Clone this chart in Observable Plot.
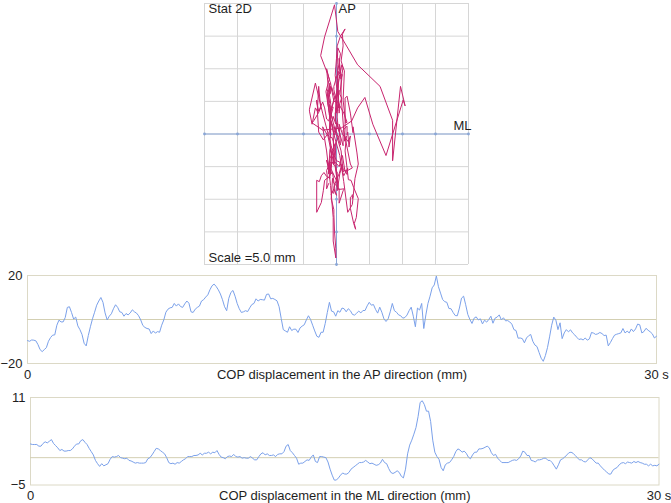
<!DOCTYPE html>
<html>
<head>
<meta charset="utf-8">
<script src="https://cdn.jsdelivr.net/npm/d3@7"></script>
<script src="https://cdn.jsdelivr.net/npm/@observablehq/plot@0.6"></script>
<style>
  html, body { margin: 0; padding: 0; background: #ffffff; }
  #chart { position: relative; width: 671px; height: 503px; overflow: hidden;
           font-family: "Liberation Sans", Arial, sans-serif; }
  #chart svg { position: absolute; left: 0; overflow: visible; }
</style>
</head>
<body>
<div id="chart"></div>
<script>
// ---- Data ----
const sampleInterval = 0.1;          // seconds between samples, 0 … 30 s
const durationSeconds = 30;

// COP displacement, antero-posterior (mm)
const apValues = [
  -9.6, -9.9, -9.3, -9.4, -9.7, -11.4, -13.7, -14.6, -13.7, -12.8,
  -9.9, -8.2, -7.1, -7.0, -2.6, -0.3, -1.1, -1.1, 0.9, 5.5,
  5.8, 3.2, 0.2, 1.1, -2.9, -4.6, -6.8, -10.8, -12.0, -7.3,
  -3.3, 0.3, 3.3, 6.5, 8.4, 10.0, 7.8, 3.0, -0.2, 1.5,
  2.6, 4.9, 6.7, 5.5, 3.5, 3.2, 1.5, 2.7, 2.1, 3.0,
  4.4, 3.5, 2.9, 1.7, -0.2, -2.7, -3.6, -4.1, -4.3, -6.4,
  -5.2, -6.2, -5.5, -5.8, -2.6, -0.2, 3.3, 4.7, 5.3, 5.5,
  7.3, 6.1, 7.1, 5.9, 5.5, 7.1, 8.4, 7.4, 3.5, 3.2,
  4.7, 5.5, 6.1, 8.4, 9.0, 10.2, 11.2, 13.5, 15.3, 16.1,
  15.0, 13.5, 11.6, 9.0, 5.8, 4.0, 9.6, 12.3, 13.2, 10.6,
  7.3, 4.9, 3.2, 3.5, 4.0, 3.6, 5.3, 6.8, 7.3, 9.4,
  8.4, 9.1, 9.0, 8.8, 11.4, 11.6, 9.4, 9.6, 9.1, 8.5,
  5.8, 0.5, -4.6, -5.2, -5.8, -3.3, -5.0, -4.4, -4.4, -5.9,
  -3.8, -3.0, -2.4, -0.2, 1.7, 0, -2.6, -5.2, -7.6, -8.1,
  -5.8, -5.8, -1.8, 3.2, 7.8, 3.8, 3.5, 1.5, 4.0, 3.3,
  5.2, 4.9, 3.5, 4.9, 4.0, 2.3, 2.0, 2.9, 3.8, 3.0,
  4.1, 4.1, 6.2, 7.8, 6.5, 6.8, 4.6, 2.9, 5.6, 3.3,
  0.3, -0.9, 0.3, 3.5, 7.3, 4.0, 3.3, 2.1, 1.7, 0.6,
  0.9, 2.0, 4.0, 5.6, 1.5, -3.3, 5.2, 4.3, 7.3, -4.1,
  2.1, 7.3, 10.6, 14.4, 15.7, 19.8, 14.9, 12.0, 9.1, 8.1,
  7.8, 5.0, 4.9, 3.2, 1.8, 1.7, 5.2, 9.7, 10.6, 6.7,
  2.3, 0, -1.8, 0.6, 1.2, -0.2, 0.3, -2.0, -0.3, -1.2,
  0, 1.5, -1.7, 0.6, 1.1, 2.1, -0.2, 0.8, -0.6, -0.5,
  -1.1, -2.1, -4.6, -5.0, -8.5, -8.4, -8.7, -10.6, -8.4, -7.4,
  -6.8, -9.9, -11.6, -12.3, -15.0, -17.6, -19.0, -16.4, -12.8, -7.9,
  -2.6, 1.1, -0.3, -4.6, -1.5, -8.7, -6.1, -4.6, -5.6, -4.7,
  -6.1, -7.0, -8.1, -9.1, -8.8, -9.3, -8.4, -9.4, -8.8, -5.9,
  -6.2, -6.8, -6.5, -5.9, -6.4, -7.3, -7.1, -12.0, -10.5, -8.7,
  -7.1, -6.7, -6.4, -6.1, -4.1, -6.1, -5.3, -6.1, -4.3, -5.5,
  -4.3, -2.1, -2.4, -6.1, -5.5, -4.0, -4.9, -5.6, -6.5, -8.4,
  -7.6
];

// COP displacement, medio-lateral (mm)
const mlValues = [
  2.5, 2.4, 2.4, 2.4, 2.1, 2.1, 2.6, 2.9, 2.7, 3.0,
  3.3, 2.6, 2.2, 1.8, 1.3, 1.5, 1.2, 1.2, 1.3, 1.3,
  1.6, 2.1, 2.5, 2.5, 3.1, 3.3, 2.8, 2.4, 1.7, 1.1,
  0.5, -0.5, -1.1, -1.6, -1.1, -1.5, -1.3, -1.1, -0.3, 0.2,
  0.1, 0.2, 0.4, 0, -0.1, -0.2, -0.1, -0.5, -0.6, -0.8,
  -1.0, -0.9, -1.0, -1.0, -1.0, -0.9, -0.2, 0, 0.5, 1.1,
  1.7, 1.6, 1.3, 1.0, 0.7, 0, -0.9, -1.1, -1.0, -1.2,
  -0.9, -1.0, -0.7, -0.4, -0.2, 0.2, 0.2, 0.2, 0.4, 0.4,
  0.5, 0.8, 0.5, 0.8, 0.8, 1.0, 0.7, 1.0, 0.9, 1.3,
  0.6, 0.1, 0, -0.2, 0.2, 0.3, 0.2, 0.6, 0.2, 0.1,
  0.2, -0.1, 0, -0.1, -0.1, 0.2, -0.1, -0.4, -0.4, 0.2,
  0.7, 0.9, 0.5, 0.7, 0.4, 0.4, 0.5, 0.2, 0.6, 0.7,
  0.7, 1.1, 2.1, 2.4, 1.3, 0.9, 0.4, -0.1, -1.2, -1.0,
  -1.0, -0.7, -0.4, -0.5, 0.1, 0.5, -0.7, -0.9, 0.2, 0.2,
  0.1, 0, -0.8, -2.1, -3.2, -4.1, -4.1, -3.7, -3.2, -2.8,
  -3.0, -3.0, -2.7, -2.1, -1.8, -1.5, -1.2, -0.9, -0.9, -0.8,
  -0.5, -0.8, -1.1, -1.0, -1.2, -1.4, -1.3, -1.0, -0.3, -0.9,
  -1.1, -2.0, -2.7, -2.9, -2.7, -2.4, -2.7, -3.4, -3.7, -2.1,
  0.7, 2.3, 3.2, 4.3, 5.5, 7.5, 10.1, 10.4, 9.7, 8.5,
  8.5, 6.6, 3.2, 1.0, 0.2, -0.3, -1.8, -2.4, -1.3, -1.0,
  -0.9, -0.4, 0.2, 1.1, 1.6, 1.4, 1.0, 1.2, 0.8, 0.1,
  -0.2, 0.5, 1.0, 1.0, 1.6, 1.6, 1.7, 1.9, 2.1, 1.8,
  0.9, 0.4, 0.6, -0.1, -0.5, -0.9, -0.9, -0.9, -0.9, -0.7,
  -0.5, -0.4, -0.5, -0.2, 0.3, 1.2, 1.0, 0.4, 0.4, -0.5,
  -0.6, -0.8, -0.4, -0.4, -0.3, -0.1, -0.1, -0.5, -0.5, -0.9,
  -1.5, -2.1, -1.3, -0.4, -0.2, 0.1, 0.5, 0.9, 1.0, 0.8,
  0.4, 0, -0.4, -0.4, -0.7, -0.8, -0.4, 0, -0.2, -0.6,
  -1.0, -1.0, -1.5, -1.9, -2.3, -2.6, -3.0, -3.0, -2.3, -2.0,
  -1.8, -1.3, -1.0, -0.9, -1.1, -0.8, -0.9, -1.0, -0.7, -0.9,
  -0.7, -0.9, -1.0, -1.2, -1.2, -1.5, -1.2, -1.5, -1.4, -1.5,
  -1.2
];

// Stabilogram grid (mm), scale 5.0 mm per cell
const gridTicks = [-20, -15, -10, -5, 0, 5, 10, 15, 20];
const apTickLabels = [-20, 20];
const mlTickLabels = [-5, 11];
const apTitle = "COP displacement in the AP direction (mm)";
const mlTitle = "COP displacement in the ML direction (mm)";

// ---- Build tables ----
const apSeries = apValues.map((v, i) => ({t: i * sampleInterval, v}));
const mlSeries = mlValues.map((v, i) => ({t: i * sampleInterval, v}));
const path2D = apValues.map((ap, i) => ({ml: mlValues[i], ap}));

const font = "Liberation Sans, Arial, sans-serif";
const textColor = "#1e1e1e";
const pink = "#c8246e";
const axisBlue = "#89a6d6";
const seriesBlue = "#7ba1ea";
const frameColor = "#dcd9c6";
const zeroColor = "#d3cfb2";
const gridGray = "#d6d6d6";

const chart = document.getElementById("chart");

// ---- Panel 1: Stat 2D stabilogram ----
const p1 = Plot.plot({
  width: 671, height: 268,
  marginLeft: 204, marginRight: 203, marginTop: 3, marginBottom: 4,
  x: {domain: [-20, 20], axis: null},
  y: {domain: [-20, 20], axis: null},
  style: {fontFamily: font, background: "transparent", color: textColor},
  marks: [
    Plot.ruleX(gridTicks, {stroke: gridGray, strokeOpacity: 1}),
    Plot.ruleY(gridTicks, {stroke: gridGray, strokeOpacity: 1}),
    Plot.ruleX([0], {stroke: axisBlue, strokeOpacity: 1, y1: -20.2, y2: 20}),
    Plot.ruleY([0], {stroke: axisBlue, strokeOpacity: 1}),
    Plot.dot(gridTicks, {x: d => d, y: () => 0, r: 1.4, fill: axisBlue, stroke: null}),
    Plot.dot(gridTicks, {x: () => 0, y: d => d, r: 1.4, fill: axisBlue, stroke: null}),
    Plot.line(path2D, {x: "ml", y: "ap", stroke: pink, strokeWidth: 1, clip: true}),
    Plot.text(["Stat 2D"], {x: () => -20, y: () => 20, text: d => d, textAnchor: "start", lineAnchor: "top", dx: 4, dy: 0, fontSize: 13, fill: textColor}),
    Plot.text(["AP"], {x: () => 0, y: () => 20, text: d => d, textAnchor: "start", lineAnchor: "top", dx: 2, dy: 0, fontSize: 13, fill: textColor}),
    Plot.text(["ML"], {x: () => 20, y: () => 0, text: d => d, textAnchor: "end", lineAnchor: "bottom", dx: 3, dy: -4, fontSize: 13, fill: textColor}),
    Plot.text(["Scale =5.0 mm"], {x: () => -20, y: () => -20, text: d => d, textAnchor: "start", lineAnchor: "bottom", dx: 4, dy: -3, fontSize: 13, fill: textColor})
  ]
});
p1.style.top = "0px";
chart.appendChild(p1);

// ---- Time series panels ----
function seriesPanel({data, yDomain, ticks, title, top, height, mLeft, mRight, mTop, mBottom}) {
  const svg = Plot.plot({
    width: 671, height,
    marginLeft: mLeft, marginRight: mRight, marginTop: mTop, marginBottom: mBottom,
    x: {domain: [0, durationSeconds], axis: null},
    y: {domain: yDomain, axis: null},
    style: {fontFamily: font, background: "transparent", color: textColor},
    marks: [
      Plot.frame({stroke: frameColor, strokeOpacity: 1}),
      Plot.ruleY([0], {stroke: zeroColor, strokeOpacity: 1}),
      Plot.line(data, {x: "t", y: "v", stroke: seriesBlue, strokeWidth: 1}),
      Plot.axisY(ticks, {tickSize: 0, tickPadding: 5, label: null, fontSize: 13, fill: textColor}),
      Plot.text([
        {x: 0, s: "0"},
        {x: durationSeconds / 2, s: title},
        {x: durationSeconds, s: `${durationSeconds} s`}
      ], {x: "x", y: () => yDomain[0], text: "s", lineAnchor: "middle", dy: 11, fontSize: 13, fill: textColor})
    ]
  });
  svg.style.top = top + "px";
  chart.appendChild(svg);
}

seriesPanel({data: apSeries, yDomain: [-20, 20], ticks: apTickLabels, title: apTitle,
  top: 268, height: 115, mLeft: 27, mRight: 15, mTop: 7, mBottom: 20});
seriesPanel({data: mlSeries, yDomain: [-5, 11], ticks: mlTickLabels, title: mlTitle,
  top: 385, height: 118, mLeft: 30, mRight: 12.5, mTop: 12, mBottom: 18.5});
</script>
</body>
</html>
